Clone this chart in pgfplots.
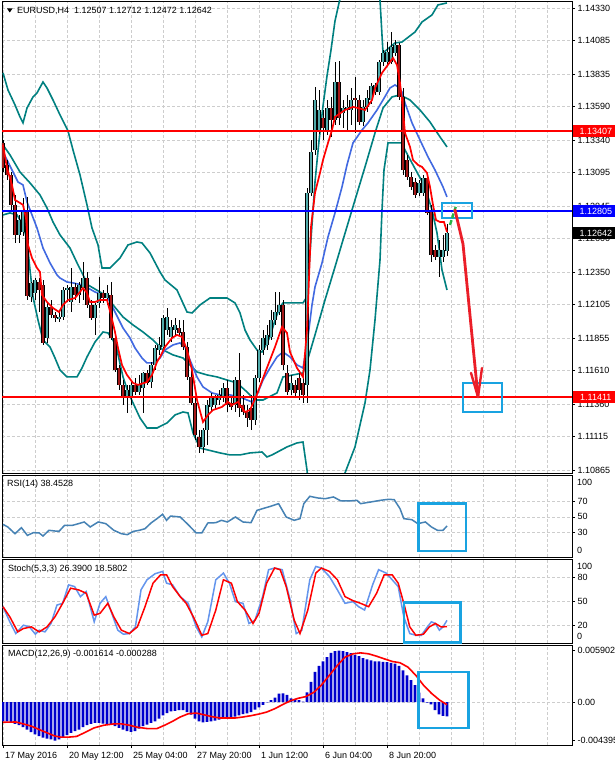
\documentclass[border=0pt]{standalone}
\usepackage{fontspec}
\setmainfont{Liberation Sans}
\usepackage{pgfplots}
\usepackage{pgfplotstable}
\pgfplotsset{compat=1.18}
\definecolor{bbteal}{RGB}{0,128,128}
\definecolor{mablue}{RGB}{65,105,225}
\definecolor{bullc}{RGB}{80,170,170}
\definecolor{bearc}{RGB}{165,25,25}
\definecolor{annot}{RGB}{25,163,225}
\definecolor{rsic}{RGB}{70,130,180}
\definecolor{stochk}{RGB}{100,149,237}
\definecolor{gridc}{RGB}{205,205,205}
\definecolor{arrowred}{RGB}{235,30,40}
\definecolor{greenarr}{RGB}{40,180,70}
\definecolor{hblue}{RGB}{0,0,255}
\definecolor{histc}{RGB}{0,0,205}
\newcommand{\fs}{\fontsize{9}{10.8}\selectfont}

\pgfplotstableread{
i O H L C
4 1.12628 1.12778 1.12568 1.12740
5 1.12650 1.12905 1.12620 1.12800
7 1.12163 1.12275 1.12125 1.12268
8 1.12193 1.12305 1.12140 1.12290
11 1.11855 1.12125 1.11818 1.12088
14 1.11998 1.12065 1.11975 1.12013
15 1.12013 1.12238 1.11990 1.12215
16 1.12215 1.12253 1.12125 1.12230
17 1.12125 1.12380 1.12050 1.12238
19 1.12178 1.12275 1.12118 1.12253
20 1.12230 1.12425 1.12140 1.12305
23 1.12005 1.12118 1.11878 1.12103
24 1.12118 1.12313 1.12080 1.12193
26 1.12155 1.12253 1.12103 1.12193
31 1.11405 1.11503 1.11293 1.11465
32 1.11405 1.11540 1.11353 1.11503
34 1.11450 1.11578 1.11428 1.11510
35 1.11480 1.11600 1.11293 1.11593
37 1.11525 1.11675 1.11480 1.11653
38 1.11653 1.11803 1.11615 1.11780
39 1.11765 1.11863 1.11728 1.11803
40 1.11788 1.12028 1.11765 1.12005
41 1.11915 1.12080 1.11878 1.12013
42 1.11863 1.11990 1.11825 1.11938
43 1.11915 1.12005 1.11878 1.11953
50 1.11038 1.11180 1.10993 1.11165
51 1.11165 1.11390 1.11053 1.11353
52 1.11338 1.11443 1.11300 1.11405
53 1.11353 1.11428 1.11315 1.11405
54 1.11390 1.11465 1.11353 1.11428
55 1.11405 1.11518 1.11375 1.11480
58 1.11353 1.11563 1.11300 1.11540
63 1.11240 1.11578 1.11203 1.11555
64 1.11555 1.11803 1.11525 1.11765
65 1.11765 1.11915 1.11728 1.11855
66 1.11803 1.11953 1.11765 1.11878
67 1.11863 1.12065 1.11840 1.11990
68 1.11990 1.12200 1.11953 1.12050
69 1.12050 1.12200 1.12028 1.12103
72 1.11465 1.11578 1.11428 1.11518
76 1.11503 1.12980 1.11368 1.12943
77 1.12943 1.13340 1.12920 1.13250
78 1.13265 1.13738 1.13228 1.13640
79 1.13400 1.13715 1.13385 1.13565
81 1.13400 1.13640 1.13378 1.13580
83 1.13490 1.13925 1.13453 1.13775
85 1.13543 1.13640 1.13430 1.13580
86 1.13565 1.13678 1.13415 1.13588
87 1.13565 1.13730 1.13453 1.13640
90 1.13475 1.13640 1.13445 1.13588
91 1.13588 1.13715 1.13550 1.13655
92 1.13640 1.13768 1.13610 1.13745
93 1.13700 1.13768 1.13678 1.13753
94 1.13700 1.13940 1.13678 1.13925
95 1.13925 1.14015 1.13895 1.13993
96 1.13925 1.14075 1.13903 1.14000
97 1.13925 1.14150 1.13910 1.14038
98 1.13993 1.14090 1.13970 1.14053
104 1.12943 1.13040 1.12920 1.13018
105 1.12943 1.13078 1.12920 1.13055
109 1.12463 1.12590 1.12313 1.12515
110 1.12463 1.12628 1.12425 1.12515
111 1.12507 1.12712 1.12472 1.12642
}\bull

\pgfplotstableread{
i O H L C
0 1.13318 1.13340 1.13100 1.13130
1 1.13153 1.13190 1.13040 1.13078
2 1.13078 1.13100 1.12815 1.12853
3 1.12853 1.12928 1.12568 1.12628
6 1.12800 1.12913 1.12140 1.12170
9 1.12275 1.12305 1.12050 1.12215
10 1.12253 1.12290 1.11803 1.11818
12 1.12088 1.12140 1.12005 1.12028
13 1.12028 1.12050 1.11975 1.12005
18 1.12238 1.12268 1.12140 1.12178
21 1.12305 1.12350 1.12080 1.12103
22 1.12103 1.12140 1.11990 1.12005
25 1.12193 1.12215 1.12118 1.12155
27 1.12178 1.12275 1.11840 1.11855
28 1.11855 1.11893 1.11600 1.11615
29 1.11630 1.11653 1.11465 1.11503
30 1.11503 1.11540 1.11353 1.11405
33 1.11503 1.11555 1.11428 1.11450
36 1.11593 1.11615 1.11503 1.11518
44 1.11930 1.11990 1.11870 1.11893
45 1.11900 1.11990 1.11765 1.11788
46 1.11788 1.11825 1.11540 1.11563
47 1.11563 1.11615 1.11353 1.11368
48 1.11368 1.11405 1.11090 1.11128
49 1.11113 1.11165 1.10993 1.11038
56 1.11480 1.11540 1.11300 1.11353
57 1.11368 1.11405 1.11315 1.11338
59 1.11540 1.11743 1.11263 1.11330
60 1.11353 1.11428 1.11278 1.11300
61 1.11300 1.11353 1.11188 1.11255
62 1.11330 1.11428 1.11165 1.11240
70 1.12103 1.12140 1.11615 1.11653
71 1.11593 1.11653 1.11428 1.11450
73 1.11503 1.11540 1.11413 1.11443
74 1.11555 1.11615 1.11390 1.11465
75 1.11518 1.11563 1.11368 1.11428
80 1.13505 1.13565 1.13340 1.13430
82 1.13580 1.13663 1.13363 1.13490
84 1.13775 1.13933 1.13453 1.13505
88 1.13655 1.13813 1.13393 1.13640
89 1.13640 1.13678 1.13453 1.13475
99 1.14053 1.14068 1.13640 1.13663
100 1.13663 1.13730 1.13078 1.13115
101 1.13190 1.13228 1.13040 1.13063
102 1.13063 1.13100 1.12965 1.12988
103 1.13025 1.13055 1.12905 1.12928
106 1.13055 1.13078 1.12778 1.12793
107 1.12815 1.12853 1.12425 1.12478
108 1.12515 1.12553 1.12440 1.12463
}\bear

\pgfplotsset{
  mtpanel/.style={
    scale only axis, width=570pt,
    xmin=-0.25, xmax=142.25,
    axis line style={black, line width=0.8pt},
    clip mode=individual,
    grid=major,
    major grid style={gridc, dash pattern=on 3pt off 2pt, line width=0.6pt},
    minor grid style={gridc, dash pattern=on 3pt off 2pt, line width=0.6pt},
    ytick pos=right, yticklabel pos=right,
    tick align=outside, major tick length=3pt, minor tick length=0pt,
    tick style={black, line width=0.6pt},
    tick label style={font=\fs, text=black},
    yticklabel style={anchor=west, xshift=-1pt},
    scaled y ticks=false, scaled x ticks=false,
  },
  noxt/.style={xtick={0,8,...,136}, xticklabels={}, xmajorticks=false},
  wick/.style={forget plot, draw=none, mark=none, error bars/.cd, y dir=plus, y explicit, error mark=none,
    error bar style={draw=black, line width=0.9pt}},
  bodyo/.style={forget plot, draw=none, mark=none, error bars/.cd, y dir=plus, y explicit, error mark=none,
    error bar style={draw=black, line width=3.2pt}},
  bodyi/.style={forget plot, draw=none, mark=none, error bars/.cd, y dir=plus, y explicit, error mark=none,
    error bar style={draw=#1, line width=1.4pt}},
}

\begin{document}
\begin{tikzpicture}
\useasboundingbox (0,0) rectangle (615pt,766pt);
\fill[white] (0,0) rectangle (615pt,766pt);

% ---------------- main price panel ----------------
\begin{axis}[mtpanel, noxt,
  at={(2pt,293pt)}, anchor=south west, height=472pt,
  ymin=1.108425, ymax=1.143825,
  ytick={1.10865,1.11115,1.11360,1.11610,1.11855,1.12105,1.12350,1.12600,1.12845,1.13095,1.13340,1.13590,1.13835,1.14085,1.14330},
  yticklabels={1.10865,1.11115,1.11360,1.11610,1.11855,1.12105,1.12350,1.12600,1.12845,1.13095,1.13340,1.13590,1.13835,1.14085,1.14330},
]
% bands
\addplot[bbteal, line width=1.6pt] coordinates {(0,1.13843) (1.25,1.13715) (3,1.13603) (4.25,1.13513) (5,1.13468) (6,1.13580) (7.5,1.13663) (8.5,1.13693) (10,1.13775) (11,1.13730) (12.5,1.13640) (14.25,1.13528) (16.25,1.13408) (17.5,1.13265) (19.25,1.13078) (21,1.12853) (22.25,1.12680) (23.75,1.12553) (24.75,1.12380) (26.75,1.12380) (29.25,1.12455) (31.25,1.12553) (33.5,1.12575) (34.75,1.12568) (36.75,1.12493) (39.25,1.12350) (40.5,1.12290) (43.5,1.12215) (46,1.12050) (47.25,1.12043) (49.25,1.12103) (51.75,1.12155) (56,1.12155) (58,1.12118) (59.25,1.12043) (60.5,1.11915) (61.75,1.11840) (63.5,1.11765) (64.75,1.11750) (65.5,1.11788) (66.75,1.11863) (68,1.11990) (69.25,1.12088) (70,1.12118) (75,1.12118) (76,1.12163) (77,1.12598) (78,1.13025) (79,1.13333) (80,1.13595) (81,1.13820) (82,1.14015) (83,1.14233) (84,1.14368) (86,1.14600) (88,1.14750) (90,1.14850) (92,1.14700) (93.5,1.14480) (94.25,1.14390) (95,1.13993) (98,1.14068) (99.75,1.14075) (103,1.14150) (104.75,1.14225) (107.25,1.14278) (108.75,1.14353) (111,1.14368)};
\addplot[bbteal, line width=1.6pt] coordinates {(0,1.13303) (1.75,1.13228) (4.25,1.13100) (6.75,1.13018) (9.25,1.12928) (11,1.12830) (12.5,1.12725) (14.25,1.12628) (16.75,1.12530) (18.75,1.12403) (20,1.12328) (21.25,1.12253) (24.25,1.12200) (26.25,1.12163) (27.5,1.12103) (30,1.12013) (32.5,1.11953) (35,1.11900) (37.5,1.11840) (40,1.11765) (42.5,1.11728) (45,1.11705) (46.75,1.11653) (48.5,1.11600) (51,1.11578) (53.5,1.11563) (56,1.11540) (58.5,1.11518) (61,1.11450) (62.25,1.11413) (63.5,1.11390) (65,1.11390) (68.5,1.11443) (70,1.11563) (72.5,1.11578) (75,1.11593) (76,1.11675) (78,1.11878) (80.5,1.12140) (83,1.12388) (85,1.12590) (88,1.12890) (90.5,1.13138) (93,1.13393) (95,1.13580) (97.25,1.13663) (99.25,1.13678) (101.75,1.13640) (104.25,1.13565) (106.75,1.13475) (109.25,1.13363) (111,1.13288)};
\addplot[bbteal, line width=1.6pt] coordinates {(0,1.12778) (1.75,1.12793) (3.5,1.12778) (5,1.12703) (6,1.12590) (6.75,1.12365) (7.5,1.12163) (8.75,1.11990) (10,1.11840) (11.75,1.11788) (13,1.11705) (14.25,1.11615) (16,1.11563) (18.5,1.11563) (19.75,1.11630) (21,1.11713) (23,1.11825) (25,1.11900) (26.25,1.11893) (27.5,1.11840) (28.5,1.11765) (30,1.11563) (31.25,1.11450) (32.5,1.11368) (34.25,1.11255) (36,1.11180) (38.5,1.11180) (41,1.11218) (43,1.11278) (45,1.11300) (46.25,1.11293) (47.5,1.11143) (49.25,1.11030) (51.25,1.11015) (54.25,1.10993) (56.75,1.10978) (59.25,1.10978) (61.75,1.10993) (64.75,1.11000) (66,1.10963) (67.25,1.10978) (71,1.11038) (73.5,1.11068) (75,1.11075) (76,1.10865) (77,1.10580) (79,1.10350) (81,1.10100) (83,1.10300) (85.5,1.10843) (88,1.11038) (90.5,1.11368) (91.75,1.11615) (93,1.11990) (94.25,1.12440) (94.75,1.12815) (95.25,1.13115) (96.25,1.13318) (98,1.13318) (99.75,1.13318) (100.5,1.13265) (102.5,1.13153) (105.5,1.12988) (107.25,1.12815) (108.5,1.12643) (109.75,1.12365) (111,1.12215)};
% slow MA (blue)
\addplot[mablue, line width=1.6pt] coordinates {(0,1.13250) (1.25,1.13175) (2.5,1.13100) (3.75,1.13025) (5,1.13003) (6,1.12875) (7.25,1.12778) (8.5,1.12680) (9.25,1.12605) (10,1.12530) (11.75,1.12418) (13.5,1.12328) (14.25,1.12305) (16,1.12275) (17.5,1.12268) (19.75,1.12253) (21.25,1.12230) (23,1.12200) (25,1.12178) (26.25,1.12155) (27.5,1.12080) (28.75,1.12005) (30,1.11930) (31.75,1.11855) (33,1.11780) (34.75,1.11705) (36,1.11668) (37.5,1.11668) (39.25,1.11705) (40.5,1.11765) (42.5,1.11803) (44.25,1.11818) (45.5,1.11788) (46.75,1.11690) (48.5,1.11563) (50,1.11488) (52.25,1.11443) (54.25,1.11428) (56.75,1.11428) (59.25,1.11413) (61,1.11390) (62.25,1.11375) (63.5,1.11428) (65,1.11540) (66.75,1.11630) (68.5,1.11713) (70,1.11750) (71.75,1.11713) (73.5,1.11653) (75,1.11630) (76,1.11803) (77.25,1.12103) (78,1.12238) (79.75,1.12418) (81.25,1.12613) (83,1.12793) (84.75,1.12988) (86,1.13153) (87.5,1.13318) (89.75,1.13415) (91.25,1.13468) (93.5,1.13565) (95,1.13640) (96.75,1.13730) (98,1.13753) (98.75,1.13738) (99.75,1.13700) (100.5,1.13618) (102.25,1.13468) (104.25,1.13340) (106.25,1.13213) (108,1.13115) (110,1.12988) (111,1.12913)};
% candles
\addplot[wick] table[x=i, y=L, y error expr=\thisrow{H}-\thisrow{L}] {\bull};
\addplot[wick] table[x=i, y=L, y error expr=\thisrow{H}-\thisrow{L}] {\bear};
\addplot[bodyo] table[x=i, y=O, y error expr=\thisrow{C}-\thisrow{O}] {\bull};
\addplot[bodyi=bullc] table[x=i, y=O, y error expr=\thisrow{C}-\thisrow{O}] {\bull};
\addplot[bodyo] table[x=i, y=C, y error expr=\thisrow{O}-\thisrow{C}] {\bear};
\addplot[bodyi=bearc] table[x=i, y=C, y error expr=\thisrow{O}-\thisrow{C}] {\bear};
% fast MA (red)
\addplot[red, line width=1.7pt] coordinates {(0,1.13303) (1,1.13130) (2.25,1.13003) (3,1.12890) (4.25,1.12868) (5,1.12853) (5.75,1.12755) (6.25,1.12553) (7.25,1.12455) (8.5,1.12380) (9.25,1.12350) (9.75,1.12178) (11,1.12125) (12.5,1.12080) (14,1.12050) (15,1.12103) (16.25,1.12140) (18,1.12155) (19.25,1.12200) (20,1.12230) (21,1.12193) (21.75,1.12125) (23,1.12125) (24.25,1.12140) (26,1.12140) (27,1.12028) (28,1.11900) (28.75,1.11780) (29.75,1.11653) (31,1.11578) (32.5,1.11518) (33.75,1.11503) (36,1.11525) (37.25,1.11578) (38.5,1.11675) (39.25,1.11713) (40.5,1.11788) (42.25,1.11855) (43.5,1.11878) (44.75,1.11863) (46,1.11765) (47.25,1.11615) (48.5,1.11390) (50,1.11225) (51.25,1.11278) (52.5,1.11315) (54.75,1.11338) (56.25,1.11375) (57.25,1.11353) (58.75,1.11375) (60.5,1.11300) (61.75,1.11315) (63.25,1.11413) (65.5,1.11593) (68,1.11788) (69.75,1.11938) (71,1.11893) (71.75,1.11750) (73.5,1.11630) (75,1.11563) (76,1.11915) (77,1.12688) (78,1.12943) (79.25,1.13093) (80,1.13190) (81.25,1.13318) (82.25,1.13415) (83,1.13513) (85.5,1.13565) (87.5,1.13588) (88.75,1.13580) (90.5,1.13565) (92.25,1.13640) (93,1.13730) (94.75,1.13843) (96.75,1.13925) (97.5,1.13955) (98.5,1.13903) (99.25,1.13768) (99.75,1.13640) (100.5,1.13393) (101.75,1.13288) (102.5,1.13190) (103.75,1.13153) (104.75,1.13138) (106,1.13093) (106.75,1.12988) (107.5,1.12853) (108.25,1.12740) (109.25,1.12725) (110.25,1.12725) (111,1.12650)};
% horizontal levels
\addplot[red, line width=2.2pt] coordinates {(-0.25,1.13407) (142.25,1.13407)};
\addplot[red, line width=2.2pt] coordinates {(-0.25,1.11411) (142.25,1.11411)};
\addplot[hblue, line width=2.2pt] coordinates {(-0.25,1.12805) (142.25,1.12805)};
% annotations
\draw[annot, line width=2.6pt] (axis cs:109.75,1.12868) rectangle (axis cs:117.25,1.12755);
\draw[annot, line width=2.6pt] (axis cs:115,1.11518) rectangle (axis cs:124.75,1.11300);
\draw[greenarr, line width=2.4pt, dash pattern=on 5pt off 2pt] (axis cs:111.75,1.12703) -- (axis cs:113.25,1.12845);
\draw[arrowred, line width=2.8pt, line cap=round, line join=round] (axis cs:113,1.12815) -- (axis cs:115,1.12560) -- (axis cs:118.75,1.11413);
\draw[arrowred, line width=2.4pt, line cap=round, line join=round] (axis cs:117,1.11593) -- (axis cs:118.75,1.11413) -- (axis cs:119.75,1.11630);
\coordinate (t1) at (axis cs:142.25,1.13407);
\coordinate (t2) at (axis cs:142.25,1.12805);
\coordinate (t3) at (axis cs:142.25,1.12642);
\coordinate (t4) at (axis cs:142.25,1.11411);
\end{axis}
\begin{scope}[every node/.style={anchor=west, inner xsep=3pt, inner ysep=0pt, minimum height=12pt, minimum width=46pt, align=left, text=white, font=\fs}]
\node[fill=red] at ([xshift=0.6pt]t1) {1.13407};
\node[fill=hblue] at ([xshift=0.6pt]t2) {1.12805};
\node[fill=black] at ([xshift=0.6pt]t3) {1.12642};
\node[fill=red] at ([xshift=0.6pt]t4) {1.11411};
\end{scope}
\fill[black] (7pt,757.5pt) -- (12.5pt,757.5pt) -- (9.75pt,753.5pt) -- cycle;
\node[anchor=west, inner sep=0pt, font=\fs] at (17pt,755.5pt) {EURUSD,H4\ \ 1.12507 1.12712 1.12472 1.12642};

% ---------------- RSI ----------------
\begin{axis}[mtpanel, noxt,
  at={(2pt,209pt)}, anchor=south west, height=82pt,
  ymin=-0.7, ymax=102.8,
  ytick={30,50,70}, yticklabels={30,50,70},
]
\addplot[rsic, line width=1.5pt] coordinates {(0,40.5) (1.2,37.2) (3,28.7) (4.6,36.3) (6.1,26.6) (7.6,30) (9.05,29.6) (10,25.8) (11.5,33) (13,32.1) (14,31.7) (15.4,39.3) (17.4,39.3) (18.9,41.4) (20.3,43.5) (21.8,37.2) (23.8,43.5) (25.7,41.4) (27.7,33) (29.6,28.7) (31.1,27.5) (32.6,31.7) (34.1,33) (35.5,35) (37,42.2) (38.5,47.7) (39.9,53.2) (40.9,45.6) (41.9,51) (44.3,49.8) (46.3,40.1) (48.3,29.6) (49.7,29.6) (51.2,42.2) (53.2,42.6) (54.6,45.6) (56.1,43.5) (58.1,49.8) (60,43.5) (62,42.6) (63.5,58.2) (64.9,60.3) (66.9,63.3) (68.9,66.6) (70.8,49.8) (72.8,45.6) (74.25,47.7) (75.2,66.6) (76.7,75.9) (78.7,73.8) (80.6,72.9) (82.6,75.1) (84.5,70) (86.5,70) (88.5,70.8) (89.4,66.6) (91.9,68.7) (94.3,70.8) (96.3,72.1) (97.8,71.7) (99.25,60.3) (100.2,47.7) (102.2,46.4) (103.7,41.4) (105.6,43.5) (107.1,37.2) (108.6,33) (110,33) (111,38.45)};
\draw[annot, line width=2.6pt] (axis cs:103.9,66.6) rectangle (axis cs:115.7,6.8);
\node[anchor=west, font=\fs, inner sep=0pt] at (axis cs:143.5,94) {100};
\node[anchor=west, font=\fs, inner sep=0pt] at (axis cs:143.5,7.7) {0};
\end{axis}
\node[anchor=west, inner sep=0pt, font=\fs] at (7pt,282pt) {RSI(14) 38.4528};

% ---------------- Stochastic ----------------
\begin{axis}[mtpanel, noxt,
  at={(2pt,123pt)}, anchor=south west, height=84pt,
  ymin=-1.7, ymax=102.5,
  ytick={20,50,80}, yticklabels={20,50,80},
]
\addplot[stochk, line width=1.5pt] coordinates {(0,43.3) (1.7,24.6) (3.2,10) (5.1,20.4) (6.6,18.3) (8.1,9.2) (9.05,14.2) (10.5,12.1) (12,22.5) (13.5,45.4) (14.9,47.5) (16.4,70.4) (17.9,68.3) (19.35,55.8) (20.8,62.1) (22.8,24.6) (24.25,47.5) (25.7,55.8) (27.2,35) (28.7,14.2) (30.1,9.2) (31.6,10) (33.1,18.3) (34.5,64.2) (36,76.7) (38,84.2) (39.9,87.1) (40.9,72.5) (42.4,70.4) (44.3,55.8) (46.3,47.5) (48.3,18.3) (49.7,5.8) (51.2,24.6) (53.2,76.7) (55.1,85) (56.6,72.5) (58.1,49.6) (60,47.5) (61.5,22.5) (63,26.7) (64.9,55.8) (66.4,89.2) (67.9,91.3) (69.8,89.2) (71.8,51.7) (73.3,10) (74.7,14.2) (76.7,76.7) (78.2,93.3) (79.6,91.3) (81.6,80.8) (83.6,64.2) (85.5,47.5) (87.5,49.6) (88.9,43.3) (90.4,39.2) (92.4,70.4) (93.9,89.2) (95.8,85) (97.3,76.7) (98.8,68.3) (100.2,30.8) (101.7,10) (103.2,7.9) (104.6,7.9) (106.1,18.3) (107.1,24.6) (108.1,22.5) (109.1,14.2) (110,18.3) (111,26.39)};
\addplot[red, line width=1.5pt] coordinates {(0,43.3) (1.7,30.8) (3.7,12.1) (5.1,16.25) (7.1,18.3) (9.05,12.1) (11,18.3) (13,30.8) (14.9,47.5) (16.9,66.25) (18.9,64.2) (20.8,60) (22.8,32.9) (24.25,35) (26.2,47.5) (27.7,30.8) (29.6,14.2) (31.6,10) (33.6,18.3) (35.5,43.3) (37.5,72.5) (39.4,82.9) (40.9,82.9) (42.4,68.3) (44.3,55.8) (45.8,47.5) (47.8,28.75) (49.7,7.9) (51.2,10) (53.2,39.2) (55.1,76.7) (57.1,72.5) (58.6,49.6) (60.5,39.2) (62.5,22.5) (64,35) (65.9,72.5) (67.9,91.3) (69.3,89.2) (70.8,68.3) (72.8,26.7) (74.25,10) (76.2,39.2) (78.2,85) (79.6,91.3) (81.6,87.1) (83.6,76.7) (85.5,55.8) (87.5,50.8) (89.4,47.5) (91.4,43.3) (93.4,60) (95.3,82.9) (97.3,82.9) (98.8,72.5) (100.2,47.5) (101.7,18.3) (103.2,7.9) (105.1,9.2) (106.6,18.3) (108.1,22.5) (109.5,18.3) (111,18.58)};
\draw[annot, line width=2.6pt] (axis cs:100.2,48.3) rectangle (axis cs:114.4,-1);
\node[anchor=west, font=\fs, inner sep=0pt] at (axis cs:143.5,93.3) {100};
\node[anchor=west, font=\fs, inner sep=0pt] at (axis cs:143.5,7.1) {0};
\end{axis}
\node[anchor=west, inner sep=0pt, font=\fs] at (8pt,197pt) {Stoch(5,3,3) 26.3900 18.5802};

% ---------------- MACD ----------------
\begin{axis}[mtpanel,
  at={(2pt,21pt)}, anchor=south west, height=100pt,
  ymin=-0.00489, ymax=0.00654,
  xtick={0,16,...,96},
  xticklabels={17 May 2016,20 May 12:00,25 May 04:00,27 May 20:00,1 Jun 12:00,6 Jun 04:00,8 Jun 20:00},
  minor xtick={8,24,40,56,72,88,104,112,120,128,136},
  xminorgrids=true, xtick pos=bottom,
  xticklabel style={anchor=north west, xshift=-1.5pt, yshift=-1pt},
  ymajorgrids=false,
  ytick={-0.004395,0,0.005902}, yticklabels={-0.004395,0.00,0.005902},
]
\draw[gridc, dash pattern=on 3pt off 2pt, line width=0.6pt] (axis cs:-0.25,0) -- (axis cs:142.25,0);
\addplot[ybar, bar width=2.7pt, fill=histc, draw=none] coordinates {(0,-0.00218) (1,-0.00218) (2,-0.00226) (3,-0.00248) (4,-0.00263) (5,-0.00286) (6,-0.00312) (7,-0.00342) (8,-0.00368) (9,-0.00387) (10,-0.00406) (11,-0.00417) (12,-0.00425) (13,-0.004395) (14,-0.00425) (15,-0.00399) (16,-0.00376) (17,-0.00350) (18,-0.00331) (19,-0.00312) (20,-0.00286) (21,-0.00263) (22,-0.00248) (23,-0.00237) (24,-0.00237) (25,-0.00244) (26,-0.00248) (27,-0.00256) (28,-0.00274) (29,-0.00293) (30,-0.00312) (31,-0.00331) (32,-0.00338) (33,-0.00331) (34,-0.00301) (35,-0.00274) (36,-0.00256) (37,-0.00237) (38,-0.00218) (39,-0.00188) (40,-0.00150) (41,-0.00124) (42,-0.00105) (43,-0.00098) (44,-0.00090) (45,-0.00090) (46,-0.00113) (47,-0.00143) (48,-0.00188) (49,-0.00218) (50,-0.00229) (51,-0.00226) (52,-0.00218) (53,-0.00211) (54,-0.00199) (55,-0.00188) (56,-0.00180) (57,-0.00173) (58,-0.00165) (59,-0.00150) (60,-0.00135) (61,-0.00128) (62,-0.00113) (63,-0.00086) (64,-0.00060) (65,-0.00030) (66,-0.00003) (67,0.00023) (68,0.00053) (69,0.00098) (70,0.00102) (71,0.00083) (72,0.00045) (73,0.00034) (74,0.00023) (75,0.00008) (76,0.00113) (77,0.00233) (78,0.00346) (79,0.00414) (80,0.00466) (81,0.00515) (82,0.00564) (83,0.00583) (84,0.005902) (85,0.00583) (86,0.00572) (87,0.00560) (88,0.00541) (89,0.00526) (90,0.00504) (91,0.00489) (92,0.00478) (93,0.00466) (94,0.00466) (95,0.00462) (96,0.00459) (97,0.00451) (98,0.00440) (99,0.00414) (100,0.00365) (101,0.00308) (102,0.00252) (103,0.00196) (104,0.00110) (105,0.00045) (106,-0.00005) (107,-0.00025) (108,-0.00090) (109,-0.00140) (110,-0.00155) (111,-0.001614)};
\addplot[red, line width=1.6pt] coordinates {(0,-0.00229) (3.2,-0.00226) (5.1,-0.00248) (7.1,-0.00274) (9.05,-0.00312) (11,-0.00350) (13,-0.00387) (14.4,-0.00399) (16.4,-0.00399) (18.4,-0.00391) (20.3,-0.00350) (22.8,-0.00293) (25.2,-0.00263) (27.7,-0.00248) (29.6,-0.00248) (31.6,-0.00263) (33.6,-0.00286) (36,-0.00301) (38.5,-0.00301) (40.4,-0.00263) (42.4,-0.00218) (44.3,-0.00169) (46.3,-0.00132) (48.3,-0.00124) (50.2,-0.00143) (52.2,-0.00165) (54.2,-0.00180) (56.1,-0.00180) (58.1,-0.00180) (60,-0.00169) (62,-0.00154) (64,-0.00135) (65.9,-0.00113) (67.9,-0.00075) (69.8,-0.00030) (71.8,0.00015) (73.8,0.00045) (75.7,0.00064) (77.7,0.00113) (79.6,0.00196) (81.6,0.00308) (83.6,0.00421) (85.5,0.00515) (87.5,0.00553) (89.4,0.00564) (91.4,0.00553) (93.4,0.00526) (95.3,0.00496) (97.3,0.00466) (99.25,0.00451) (101.2,0.00402) (103.2,0.00308) (105.1,0.00196) (107.1,0.00102) (109.1,0.00026) (111,-0.000288)};
\draw[annot, line width=2.6pt] (axis cs:103.9,0.00346) rectangle (axis cs:116.4,-0.00293);
\end{axis}
\node[anchor=west, inner sep=0pt, font=\fs] at (8pt,112pt) {MACD(12,26,9) -0.001614 -0.000288};
\end{tikzpicture}
\end{document}
